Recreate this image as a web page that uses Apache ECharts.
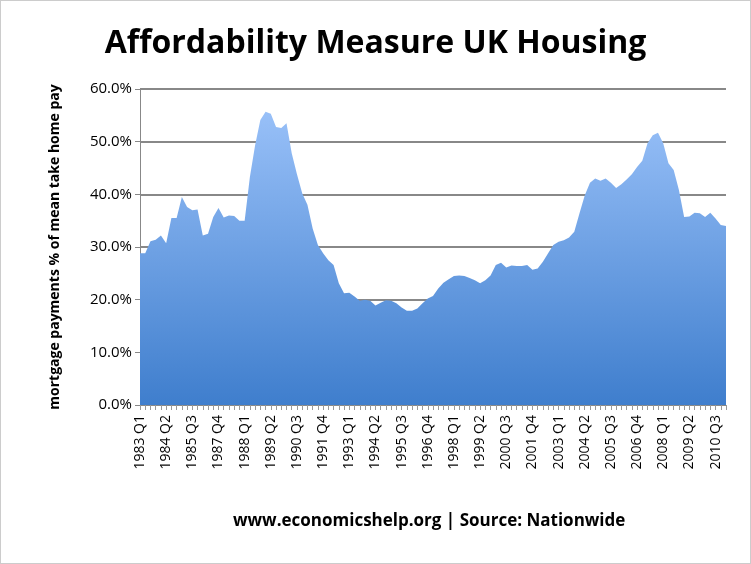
<!DOCTYPE html>
<html>
<head>
<meta charset="utf-8">
<script src="https://cdn.jsdelivr.net/npm/echarts@6/dist/echarts.min.js"></script>
<style>
  body { margin: 0; background: #fff; }
  #main { width: 749px; height: 562px; border: 1px solid #ccc; }
</style>
</head>
<body>
<div id="main"></div>
<script type="text/javascript">
    // quarter labels as they appear in the source sheet (1986 Q4 row is tagged 1987)
    var years = [1983, 1984, 1985, 1986, 1987, 1988, 1989, 1990, 1991, 1992, 1993, 1994, 1995, 1996,
        1997, 1998, 1999, 2000, 2001, 2002, 2003, 2004, 2005, 2006, 2007, 2008, 2009, 2010, 2011];
    var quarters = ['Q1', 'Q2', 'Q3', 'Q4'];
    var categories = [];
    years.forEach(function (y) {
        quarters.forEach(function (q) { categories.push(y + ' ' + q); });
    });
    categories[15] = '1987 Q4';
    categories = categories.slice(0, 113);

    var affordability = [
        28.8, 28.8, 31.1, 31.4, 32.2, 30.7, 35.5, 35.5, 39.5, 37.6,
        37.0, 37.1, 32.2, 32.5, 35.7, 37.4, 35.6, 36.0, 35.9, 35.0,
        35.0, 43.3, 49.3, 54.1, 55.7, 55.3, 52.8, 52.6, 53.5, 47.8,
        43.8, 40.2, 38.0, 33.5, 30.4, 28.8, 27.5, 26.6, 23.1, 21.2,
        21.3, 20.6, 19.8, 20.0, 19.8, 18.9, 19.4, 19.9, 19.8, 19.3,
        18.5, 17.9, 17.9, 18.3, 19.3, 20.2, 20.7, 22.1, 23.2, 23.9,
        24.5, 24.6, 24.5, 24.1, 23.7, 23.1, 23.7, 24.6, 26.6, 27.0,
        26.1, 26.5, 26.4, 26.4, 26.6, 25.7, 25.9, 27.2, 28.8, 30.4,
        31.0, 31.3, 31.8, 32.9, 36.4, 39.8, 42.2, 43.0, 42.6, 43.0,
        42.2, 41.2, 41.9, 42.8, 43.8, 45.2, 46.4, 49.7, 51.2, 51.7,
        49.7, 45.9, 44.6, 40.8, 35.7, 35.8, 36.5, 36.4, 35.7, 36.5,
        35.4, 34.2, 34.0
    ];

    var myChart = echarts.init(document.getElementById('main'));
    myChart.setOption({
        animation: false,
        title: {
            text: 'Affordability Measure UK Housing',
            left: 'center',
            top: 22,
            textStyle: { fontFamily: 'Open Sans', fontSize: 32, fontWeight: 'bold', color: '#000' }
        },
        graphic: [{
            type: 'text',
            left: 232,
            top: 512,
            style: { text: 'www.economicshelp.org | Source: Nationwide', font: 'bold 17px "Open Sans"', fill: '#000' }
        }],
        grid: { left: 139, right: 24, top: 88, bottom: 158 },
        xAxis: {
            type: 'category',
            boundaryGap: false,
            data: categories,
            axisLine: { lineStyle: { color: '#888', width: 1 } },
            axisTick: { show: true, interval: 0, length: 5, lineStyle: { color: '#999' } },
            axisLabel: { interval: 4, rotate: 90, fontSize: 14, color: '#000', fontFamily: 'Open Sans', margin: 10 }
        },
        yAxis: {
            type: 'value',
            min: 0, max: 60, interval: 10,
            name: 'mortgage payments % of mean take home pay',
            nameLocation: 'middle',
            nameGap: 78,
            nameTextStyle: { fontSize: 14, fontWeight: 'bold', color: '#000', fontFamily: 'Open Sans' },
            axisLine: { show: true, lineStyle: { color: '#888' } },
            axisTick: { show: true, length: 5, lineStyle: { color: '#888' } },
            axisLabel: { formatter: function (v) { return v.toFixed(1) + '%'; }, fontSize: 15, color: '#000', fontFamily: 'Open Sans' },
            splitLine: { lineStyle: { color: '#888', width: 2 } }
        },
        series: [{
            type: 'line',
            data: affordability,
            symbol: 'none',
            lineStyle: { width: 0 },
            areaStyle: {
                opacity: 1,
                color: new echarts.graphic.LinearGradient(0, 0, 0, 1, [
                    { offset: 0, color: '#98c0f8' },
                    { offset: 1, color: '#3f7ecd' }
                ])
            }
        }]
    });
</script>
</body>
</html>
